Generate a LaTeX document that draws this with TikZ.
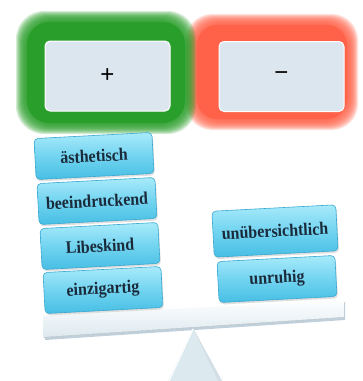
\documentclass[tikz,border=0pt]{standalone}
\usepackage{fontspec}
\setmainfont{Liberation Serif}
\newfontfamily\symfont{Liberation Sans}
\usetikzlibrary{shadows}
\definecolor{greenglow}{HTML}{2A9E2A}
\definecolor{redglow}{HTML}{FF6248}
\definecolor{btn}{HTML}{DCE6EE}
\definecolor{boxtop}{HTML}{A8EAFA}
\definecolor{boxmid}{HTML}{72D4F0}
\definecolor{boxbot}{HTML}{46BEE4}
\definecolor{boxedge}{HTML}{38A8D0}
\definecolor{txt}{HTML}{1A2A3A}
\definecolor{beam}{HTML}{DDE9EF}
\definecolor{beamdark}{HTML}{C0D0DA}
\definecolor{fulc}{HTML}{DCEAF0}
\tikzset{
  btnbox/.style={draw=white, line width=1pt, fill=btn, rounded corners=5pt,
    minimum width=125pt, minimum height=70pt, text=black},
  wordbox/.style={rounded corners=4pt, top color=boxtop, bottom color=boxbot, middle color=boxmid,
    draw=boxedge, line width=0.6pt, minimum width=118pt, minimum height=41pt, rotate=3,
    text=txt, font=\bfseries\fontsize{16}{16}\selectfont, inner sep=0pt,
    drop shadow={shadow xshift=1pt, shadow yshift=-2pt, opacity=0.25}},
}
\begin{document}
\begin{tikzpicture}[x=1pt,y=-1pt]
\useasboundingbox (0,0) rectangle (363,381);
% glows
\foreach \i in {0,...,10} {
  \fill[redglow, opacity=0.2, rounded corners={26pt}] (186+\i,14+\i) rectangle (358-\i,130-\i);
}
\fill[redglow, rounded corners=20pt] (197,25) rectangle (347,119);
\foreach \i in {0,...,10} {
  \fill[greenglow, opacity=0.2, rounded corners={28pt}] (16+\i,11+\i) rectangle (196-\i,134-\i);
}
\fill[greenglow, rounded corners=22pt] (27,22) rectangle (185,123);
% buttons
\node[btnbox, font=\symfont\fontsize{24}{24}\selectfont] (plus) at (107.5,76) {+};
\node[btnbox, font=\symfont\fontsize{24}{24}\selectfont] (minus) at (281.5,76.5) {−};
% beam
\fill[beamdark] (45,318) -- (345,302) -- (345,320) -- (45,340) -- cycle;
\path[top color=white, bottom color=beam] (43,314) -- (344,298) -- (344,317) -- (43,337) -- cycle;
\draw[white, line width=1.5pt] (44,315) -- (343,299);
\draw[gray!45, line width=0.6pt, dashed] (44,337.5) -- (344,317.5);
% fulcrum
\fill[fulc] (193,328) -- (222,381) -- (168,381) -- cycle;
\fill[fulc!90!gray] (193,328) -- (222,381) -- (218,381) -- cycle;
\draw[white, line width=1.2pt] (193,329) -- (169,381);
\coordinate (pivot) at (193,328);
% word boxes
\node[wordbox] (w1) at (94,156) {\scalebox{1}[1.1]{ästhetisch}};
\node[wordbox] (w2) at (97,201) {\scalebox{1}[1.1]{beeindruckend}};
\node[wordbox] (w3) at (100,246) {\scalebox{1}[1.1]{Libeskind}};
\node[wordbox] (w4) at (103,290) {\scalebox{1}[1.1]{einzigartig}};
\node[wordbox, minimum width=124pt, minimum height=46pt] (w5) at (275,231) {\scalebox{1}[1.1]{unübersichtlich}};
\node[wordbox] (w6) at (277,279) {\scalebox{1}[1.1]{unruhig}};
\end{tikzpicture}
\end{document}
